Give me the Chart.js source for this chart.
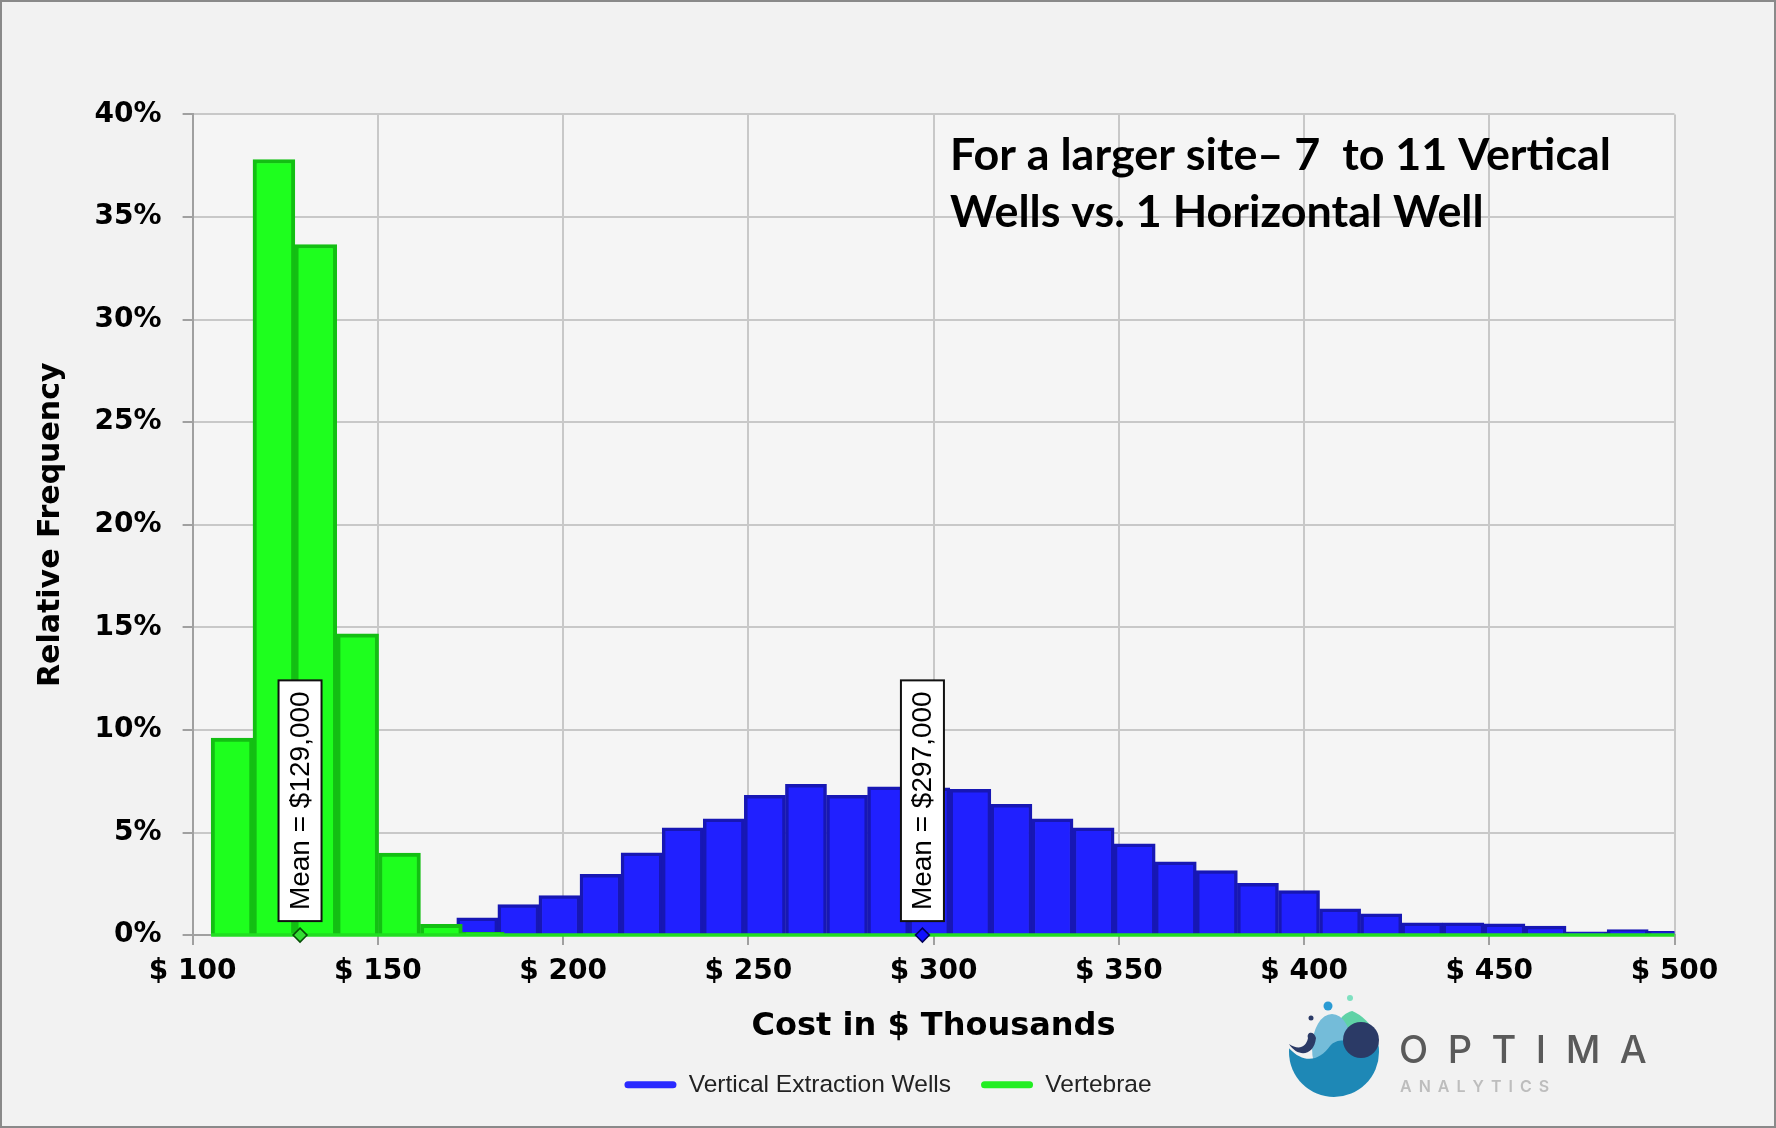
<!DOCTYPE html>
<html>
<head>
<meta charset="utf-8">
<script src="https://cdn.jsdelivr.net/npm/chart.js@4.4.1/dist/chart.umd.min.js"></script>
<style>
  html, body { margin: 0; padding: 0; background: #f2f2f2; overflow: hidden; }
  canvas { display: block; }
</style>
</head>
<body>
<canvas id="c" width="1776" height="1128"></canvas>
<script>
// ---------------- data ----------------
const seriesNames = ['Vertical Extraction Wells', 'Vertebrae'];
const xMin = 100, xMax = 500, xStep = 50;
const yMin = 0, yMax = 40, yStep = 5;

// Vertical Extraction Wells histogram (bins of ~$11.09k starting at $171.3k), % frequency
const blueStart = 171.3, blueWidth = 11.09;
const blueValues = [0.84, 1.49, 1.93, 2.96, 4.01, 5.23, 5.67, 6.81, 7.35, 6.81,
                    7.23, 7.18, 7.10, 6.37, 5.67, 5.23, 4.45, 3.57, 3.15, 2.52,
                    2.17, 1.28, 1.04, 0.60, 0.60, 0.55, 0.44, 0.16, 0.27, 0.18];

// Vertebrae histogram (bins of ~$11.3k starting at $105k), % frequency
const greenStart = 105.0, greenWidth = 11.3;
const greenValues = [9.6, 37.8, 33.66, 14.68, 4.0, 0.52, 0.14];

// means in $ thousands (Vertebrae, Vertical wells)
const means = [129, 297];
const annotationLines = ['For a larger site\u2013 7  to 11 Vertical', 'Wells vs. 1 Horizontal Well'];

// ---------------- build ----------------
const blueData = blueValues.map((v, i) => ({ x: blueStart + blueWidth * (i + 0.5), y: v }));
const greenData = greenValues.map((v, i) => ({ x: greenStart + greenWidth * (i + 0.5), y: v }));
const greenBase = [{ x: greenStart, y: 0 }, { x: xMax, y: 0 }];
const meanData = [{ x: means[1], y: 0 }, { x: means[0], y: 0 }];

const BLUE = '#2020ff', BLUE_B = '#1717b4';
const GREEN = '#1eff1e', GREEN_B = '#13bf13';
const legendColors = ['#2a2aff', '#22ee22'];

const TICK_FONT = { family: '"DejaVu Sans", Verdana, sans-serif', size: 28, weight: 'bold' };

const bgPlugin = {
  id: 'bg',
  beforeDraw(chart) {
    const { ctx, chartArea: a, width, height } = chart;
    ctx.save();
    ctx.fillStyle = '#f2f2f2';
    ctx.fillRect(0, 0, width, height);
    ctx.fillStyle = '#f5f5f5';
    ctx.fillRect(a.left, a.top, a.right - a.left, a.bottom - a.top);
    ctx.strokeStyle = '#8a8a8a';
    ctx.lineWidth = 2;
    ctx.strokeRect(1, 1, width - 2, height - 2);
    ctx.restore();
  }
};

const meanLabelPlugin = {
  id: 'meanLabels',
  afterDatasetsDraw(chart) {
    const { ctx, scales } = chart;
    const xs = scales.x, ys = scales.y;
    ctx.save();
    ctx.font = '28px "Liberation Sans", Arial, sans-serif';
    means.forEach((m) => {
      const text = 'Mean = $' + (m * 1000).toLocaleString('en-US');
      const px = xs.getPixelForValue(m);
      const py0 = ys.getPixelForValue(0);
      const tw = ctx.measureText(text).width;
      const boxH = tw + 22, boxW = 43;
      const bottom = py0 - 14;
      const top = bottom - boxH;
      ctx.fillStyle = '#ffffff';
      ctx.fillRect(px - boxW / 2, top, boxW, boxH);
      ctx.strokeStyle = '#111111';
      ctx.lineWidth = 2;
      ctx.strokeRect(px - boxW / 2, top, boxW, boxH);
      ctx.save();
      ctx.translate(px, top + boxH / 2);
      ctx.rotate(-Math.PI / 2);
      ctx.fillStyle = '#000000';
      ctx.textAlign = 'center';
      ctx.textBaseline = 'middle';
      ctx.fillText(text, 0, 1);
      ctx.restore();
    });
    ctx.restore();
  }
};

const decoPlugin = {
  id: 'deco',
  afterDraw(chart) {
    const { ctx } = chart;
    ctx.save();
    // annotation text
    ctx.fillStyle = '#000000';
    ctx.font = 'bold 44px Lato, "Open Sans", sans-serif';
    ctx.textBaseline = 'alphabetic';
    ctx.textAlign = 'left';
    const w1 = ctx.measureText(annotationLines[0]).width;
    const sx = 661 / w1;
    [170, 227].forEach((by, i) => {
      ctx.save();
      ctx.translate(950, by);
      ctx.scale(sx, 1);
      ctx.fillText(annotationLines[i], 0, 0);
      ctx.restore();
    });

    // logo
    const cx = 1334, cy = 1052, r = 45;
    ctx.save();
    ctx.beginPath();
    ctx.arc(cx, cy, r, 0, Math.PI * 2);
    ctx.clip();
    ctx.fillStyle = '#5fd2a6';
    ctx.beginPath(); ctx.arc(cx + 24, cy - 20, 22, 0, Math.PI * 2); ctx.fill();
    ctx.fillStyle = '#74bcd9';
    ctx.beginPath(); ctx.ellipse(cx - 2, cy - 4, 20, 34, 0, 0, Math.PI * 2); ctx.fill();
    ctx.fillStyle = '#1e88b6';
    ctx.beginPath();
    ctx.moveTo(cx - r - 2, cy - 6);
    ctx.bezierCurveTo(cx - 30, cy + 14, cx - 14, cy + 8, cx - 4, cy - 6);
    ctx.bezierCurveTo(cx + 6, cy - 18, cx + 20, cy - 6, cx + r + 2, cy - 12);
    ctx.lineTo(cx + r + 2, cy + r + 2);
    ctx.lineTo(cx - r - 2, cy + r + 2);
    ctx.closePath();
    ctx.fill();
    ctx.restore();
    ctx.fillStyle = '#2b3a66';
    ctx.beginPath();
    ctx.moveTo(cx - 45, cy - 8);
    ctx.bezierCurveTo(cx - 36, cy + 6, cx - 20, cy + 4, cx - 18, cy - 14);
    ctx.bezierCurveTo(cx - 20, cy - 22, cx - 28, cy - 20, cx - 26, cy - 14);
    ctx.bezierCurveTo(cx - 28, cy - 4, cx - 36, cy - 2, cx - 45, cy - 8);
    ctx.fill();
    ctx.beginPath(); ctx.arc(cx + 27, cy - 12, 18, 0, Math.PI * 2); ctx.fill();
    ctx.beginPath(); ctx.arc(cx - 23, cy - 34, 2.5, 0, Math.PI * 2); ctx.fill();
    ctx.fillStyle = '#2a9bd4';
    ctx.beginPath(); ctx.arc(cx - 6, cy - 46, 4.5, 0, Math.PI * 2); ctx.fill();
    ctx.fillStyle = '#7fe0c0';
    ctx.beginPath(); ctx.arc(cx + 16, cy - 54, 3, 0, Math.PI * 2); ctx.fill();

    const drawSpaced = (txt, x, y, spacing) => {
      for (const ch of txt) {
        ctx.fillText(ch, x, y);
        x += ctx.measureText(ch).width + spacing;
      }
    };
    ctx.fillStyle = '#5a5a5a';
    ctx.font = '500 38px Inter, Lato, sans-serif';
    drawSpaced('OPTIMA', 1399, 1063, 19.5);
    ctx.fillStyle = '#bdbdbd';
    ctx.font = '600 16px Inter, Lato, sans-serif';
    drawSpaced('ANALYTICS', 1400, 1092, 7);
    ctx.restore();
  }
};

new Chart(document.getElementById('c'), {
  type: 'bar',
  data: {
    datasets: [
      {
        label: seriesNames[0], data: blueData, xAxisID: 'x', yAxisID: 'y',
        backgroundColor: BLUE, borderColor: BLUE_B, borderWidth: 3.5,
        barPercentage: 1, categoryPercentage: 1, grouped: false, order: 3, clip: 0
      },
      {
        label: seriesNames[1], data: greenData, xAxisID: 'x2', yAxisID: 'y',
        backgroundColor: GREEN, borderColor: GREEN_B, borderWidth: 4,
        barPercentage: 1, categoryPercentage: 1, grouped: false, order: 2, clip: 0
      },
      {
        type: 'line', label: 'baseline', data: greenBase, xAxisID: 'x2', yAxisID: 'y',
        borderColor: '#22dd22', borderWidth: 3.5, pointRadius: 0, order: 1, clip: 4
      },
      {
        type: 'line', label: 'means', data: meanData, xAxisID: 'x', yAxisID: 'y',
        showLine: false, pointStyle: 'rectRot', pointRadius: 7,
        pointBackgroundColor: ['#1010ff', '#33dd33'], pointBorderColor: ['#00005a', '#064d06'],
        pointBorderWidth: 1.5, order: 0, clip: false
      }
    ]
  },
  options: {
    responsive: false,
    animation: false,
    devicePixelRatio: 1,
    layout: { padding: { left: 0, right: 0, top: 114.4, bottom: 21 } },
    plugins: {
      tooltip: { enabled: false },
      legend: {
        position: 'bottom',
        labels: {
          font: { family: '"Liberation Sans", Arial, sans-serif', size: 24.5 },
          color: '#222222',
          boxWidth: 52, boxHeight: 7, padding: 30,
          useBorderRadius: true, borderRadius: 3.5,
          generateLabels(chart) {
            return [0, 1].map(i => ({
              text: chart.data.datasets[i].label,
              fillStyle: legendColors[i], strokeStyle: legendColors[i], lineWidth: 0,
              borderRadius: 3.5, datasetIndex: i, hidden: !chart.isDatasetVisible(i),
              fontColor: '#222222'
            }));
          }
        }
      }
    },
    scales: {
      x: {
        type: 'linear', position: 'bottom', min: xMin, max: xMax, offset: false,
        ticks: { stepSize: xStep, autoSkip: false, maxRotation: 0, color: '#000', font: TICK_FONT, padding: 10,
                 callback: v => '$ ' + v },
        grid: { color: '#c8c8c8', lineWidth: 2, tickLength: 10, tickColor: '#a0a0a0', offset: false },
        border: { color: '#a0a0a0', width: 2 },
        title: { display: true, text: 'Cost in $ Thousands', color: '#000',
                 font: { family: '"DejaVu Sans", Verdana, sans-serif', size: 32, weight: 'bold', lineHeight: 1 },
                 padding: { top: 0, bottom: 0 } },
        afterFit(s) { s.height = 107.4; }
      },
      x2: { type: 'linear', display: false, min: xMin, max: xMax, offset: false },
      y: {
        type: 'linear', position: 'left', min: yMin, max: yMax,
        ticks: { stepSize: yStep, color: '#000', font: TICK_FONT, padding: 21, callback: v => v + '%' },
        grid: { color: '#c8c8c8', lineWidth: 2, tickLength: 10, tickColor: '#a0a0a0' },
        border: { color: '#a0a0a0', width: 2 },
        title: { display: true, text: 'Relative Frequency', color: '#000',
                 font: { family: '"DejaVu Sans", Verdana, sans-serif', size: 30, weight: 'bold', lineHeight: 1.2 },
                 padding: { top: 33.5, bottom: 0 } },
        afterFit(s) { s.width = 192.6; }
      },
      yR: {
        type: 'linear', position: 'right', min: 0, max: 1,
        ticks: { display: false }, grid: { display: false }, border: { display: false },
        afterFit(s) { s.width = 101.5; }
      }
    }
  },
  plugins: [bgPlugin, meanLabelPlugin, decoPlugin]
});
</script>
</body>
</html>
